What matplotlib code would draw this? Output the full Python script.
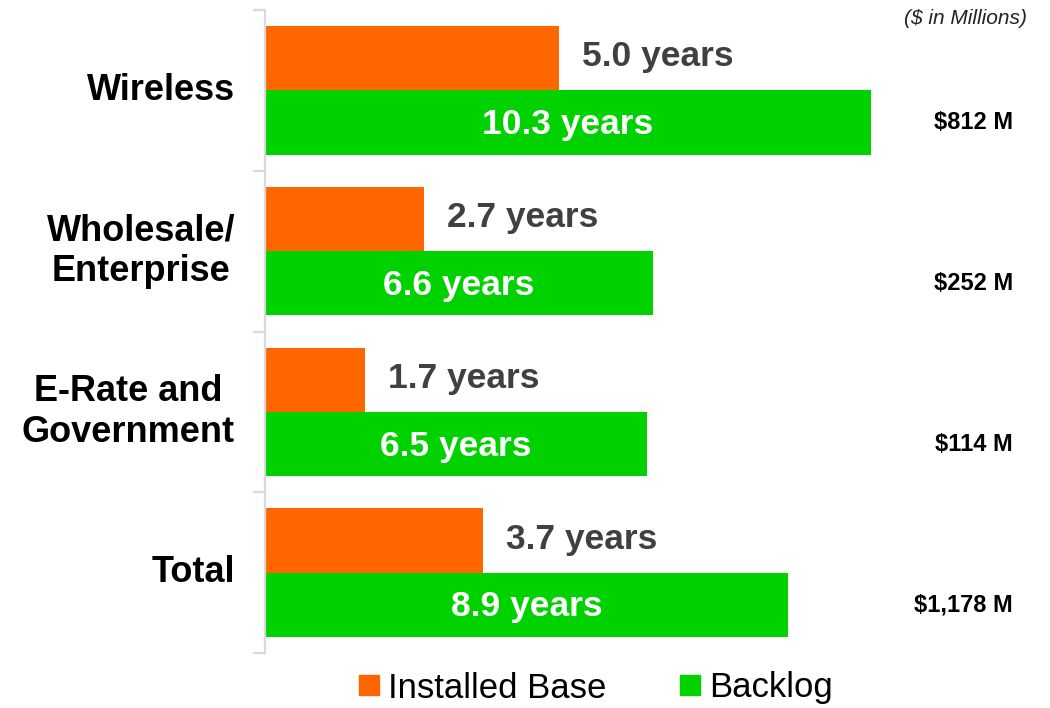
import matplotlib.pyplot as plt
import matplotlib.transforms as mtransforms
from matplotlib.lines import Line2D

plt.rcParams['font.family'] = ['Liberation Sans', 'DejaVu Sans']

categorias = ['Wireless', 'Wholesale/\nEnterprise', 'E-Rate and\nGovernment', 'Total']
installed_base = [5.0, 2.7, 1.7, 3.7]
backlog = [10.3, 6.6, 6.5, 8.9]
valores = ['$812 M', '$252 M', '$114 M', '$1,178 M']

laranja = '#FF6600'
verde = '#00D200'
cinza = '#D9D9D9'

fig = plt.figure(figsize=(10.5, 7.08), dpi=100)
ax = fig.add_axes([265 / 1050, 55 / 708, 617.6 / 1050, 643 / 708])

y = list(range(len(categorias)))
y_lar = [i - 0.2 for i in y]
y_ver = [i + 0.2 for i in y]
ax.barh(y_lar, installed_base, height=0.4, color=laranja)
ax.barh(y_ver, backlog, height=0.4, color=verde)

ax.set_xlim(0, 10.5)
ax.set_ylim(3.5, -0.5)

# so a linha da esquerda, com os tracinhos entre as categorias
for lado in ['top', 'right', 'bottom']:
    ax.spines[lado].set_visible(False)
ax.spines['left'].set_color(cinza)
ax.spines['left'].set_linewidth(1.6)
ax.set_xticks([])
ax.set_yticks([-0.5, 0.5, 1.5, 2.5, 3.5])
ax.set_yticklabels([])
ax.tick_params(axis='y', length=9, width=1.6, color=cinza)

for i in y:
    ax.annotate(f'{installed_base[i]:.1f} years', (installed_base[i], y_lar[i]),
                xytext=(16.5, 1), textcoords='offset points', ha='left', va='center',
                fontsize=25.5, fontweight='bold', color='#404040')
    ax.annotate(f'{backlog[i]:.1f} years', (backlog[i] / 2, y_ver[i]),
                xytext=(0, -1.5), textcoords='offset points', ha='center', va='center',
                fontsize=25.5, fontweight='bold', color='white')

trans = mtransforms.blended_transform_factory(fig.transFigure, ax.transData)
for i in y:
    ax.text(235 / 1050, i, categorias[i], transform=trans, ha='right', va='center',
            multialignment='center', linespacing=1.2,
            fontsize=26, fontweight='bold', color='black')
    ax.text(1013 / 1050, y_ver[i], valores[i], transform=trans, ha='right', va='center',
            fontsize=17, fontweight='bold', color='black')

fig.text(1027 / 1050, 1 - 18 / 708, '($ in Millions)', ha='right', va='center',
         fontsize=15, fontstyle='italic', color='#222222')

handles = [Line2D([], [], marker='s', linestyle='none', markersize=14.5, color=laranja),
           Line2D([], [], marker='s', linestyle='none', markersize=14.5, color=verde)]
fig.legend(handles, ['Installed Base', 'Backlog'], loc='center', ncol=2,
           bbox_to_anchor=(596 / 1050, 1 - 688 / 708), frameon=False,
           fontsize=25, handlelength=0.6, handletextpad=0.25, columnspacing=2.1,
           borderpad=0, borderaxespad=0)

fig.savefig('out.png', dpi=100)
